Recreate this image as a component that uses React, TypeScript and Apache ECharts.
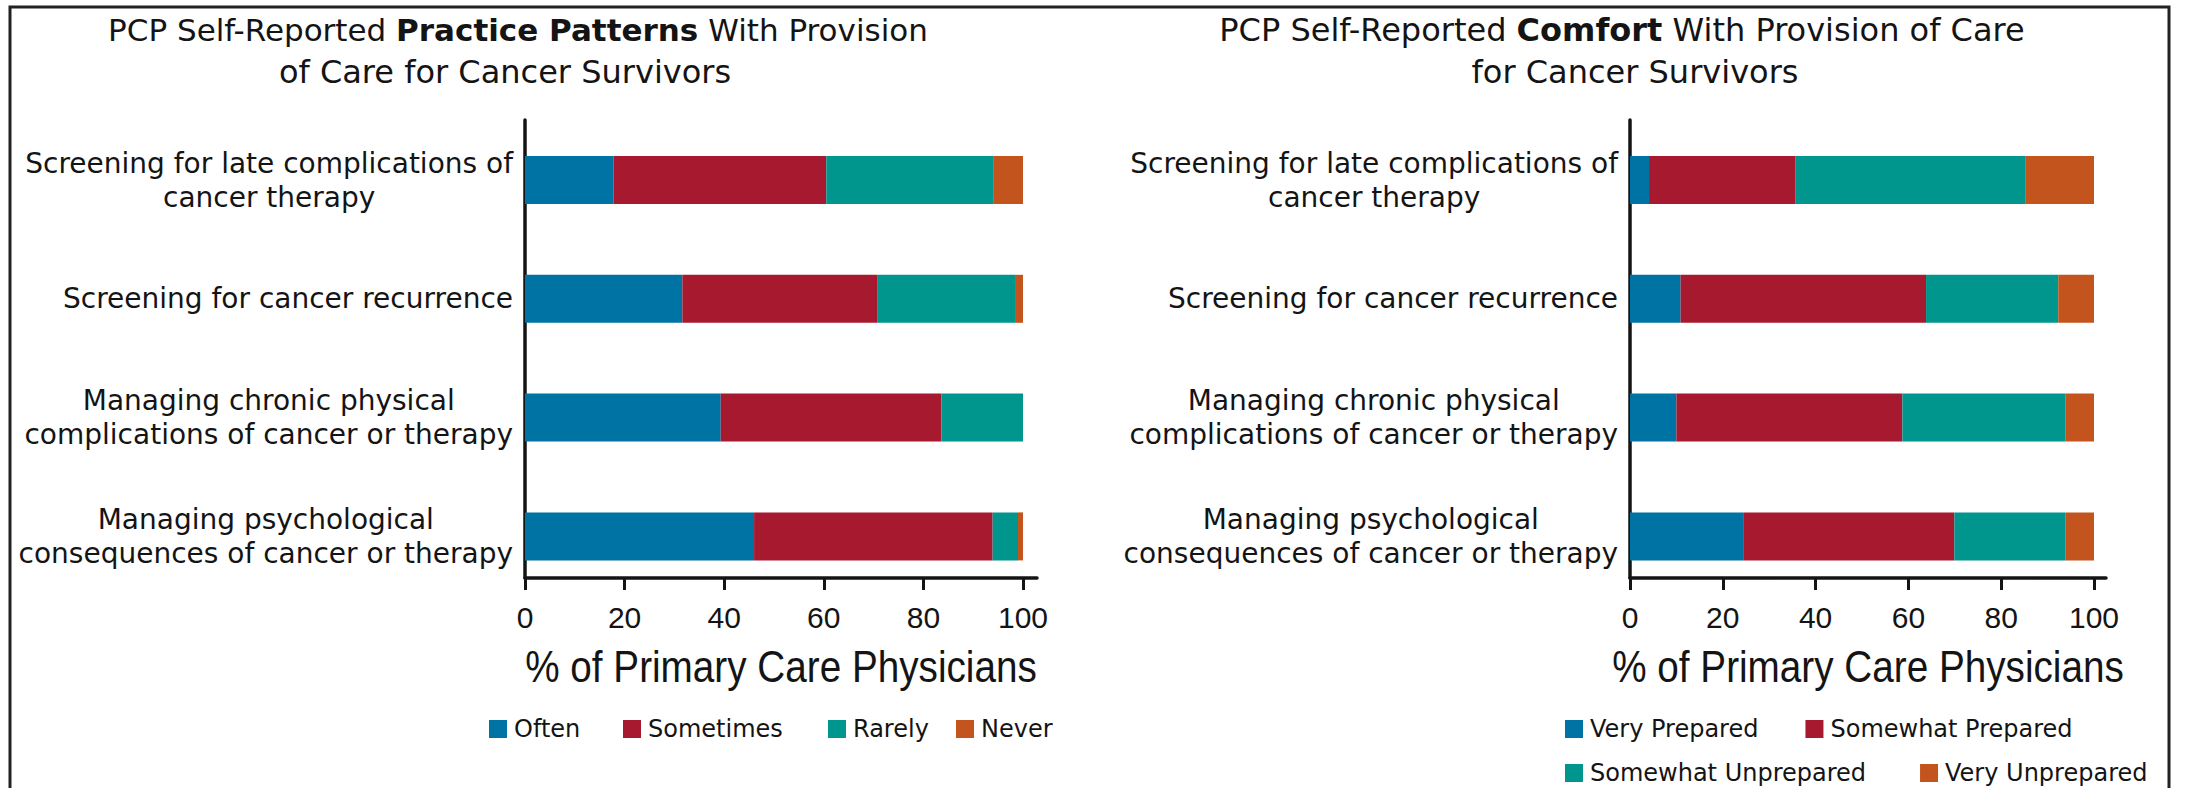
import React, { useEffect, useRef } from 'react';
import * as echarts from 'echarts';

// ---- data ----
const categories = [
  'Screening for late complications of\ncancer therapy',
  'Screening for cancer recurrence',
  'Managing chronic physical\ncomplications of cancer or therapy',
  'Managing psychological\nconsequences of cancer or therapy',
];
const practiceNames = ['Often', 'Sometimes', 'Rarely', 'Never'];
const practiceOften = [17.8, 31.6, 39.3, 46.0];
const practiceSometimes = [42.7, 39.1, 44.3, 47.9];
const practiceRarely = [33.5, 27.7, 16.4, 5.1];
const practiceNever = [6.0, 1.6, 0, 1.0];

const comfortNames = ['Very Prepared', 'Somewhat Prepared', 'Somewhat Unprepared', 'Very Unprepared'];
const comfortVeryPrepared = [4.1, 10.9, 10.0, 24.4];
const comfortSomewhatPrepared = [31.6, 52.9, 48.7, 45.5];
const comfortSomewhatUnprepared = [49.6, 28.5, 35.2, 24.0];
const comfortVeryUnprepared = [14.7, 7.7, 6.1, 6.1];

const xTicks = [0, 20, 40, 60, 80, 100];
const axisTitle = '% of Primary Care Physicians';

const colors = ['#0073A5', '#A6192E', '#00968E', '#C3541D'];

const SANS = "'DejaVu Sans', sans-serif";
const ARIAL = "'Liberation Sans', Arial, sans-serif";
const TEXT = '#141414';

export default function App() {
  const ref = useRef<HTMLDivElement>(null);

  useEffect(() => {
    if (!ref.current) return;
    const chart = echarts.init(ref.current, undefined, { renderer: 'svg' });

    const panels = [
      { barGrid: 0, axisGrid: 1, left: 525, width: 498, lineWidth: 512, titleX: 781 },
      { barGrid: 2, axisGrid: 3, left: 1630, width: 464, lineWidth: 476, titleX: 1868 },
    ];
    const top = 120.6;
    const bandH = 118.8;
    const axisY = 578;

    const grids: any[] = [];
    const xAxes: any[] = [];
    const yAxes: any[] = [];
    panels.forEach((p) => {
      grids.push({ left: p.left, top, width: p.width, height: bandH * 4, outerBoundsMode: 'none', containLabel: false });
      grids.push({ left: p.left, top: 120, width: p.lineWidth, height: axisY - 120, outerBoundsMode: 'none', containLabel: false });
      xAxes.push({
        type: 'value', gridIndex: p.barGrid, min: xTicks[0], max: xTicks[xTicks.length - 1], interval: 20,
        offset: axisY - (top + bandH * 4),
        axisLine: { show: false },
        axisTick: { show: true, length: 12, lineStyle: { width: 3, color: TEXT } },
        splitLine: { show: false },
        axisLabel: { margin: 24, fontFamily: ARIAL, fontSize: 30, lineHeight: 31, color: TEXT },
      });
      xAxes.push({
        type: 'value', gridIndex: p.axisGrid, min: 0, max: 1,
        axisLine: { show: true, onZero: false, lineStyle: { width: 3.5, color: TEXT } },
        axisTick: { show: false }, axisLabel: { show: false }, splitLine: { show: false },
      });
      yAxes.push({
        type: 'category', gridIndex: p.barGrid, data: categories, inverse: true,
        axisLine: { show: false }, axisTick: { show: false }, splitLine: { show: false },
        axisLabel: {
          margin: 12,
          formatter: (v: string) => v.split('\n').map((l) => `{c|${l}}`).join('\n'),
          rich: { c: { align: 'center', fontFamily: SANS, fontSize: 28, lineHeight: 34, color: TEXT } },
        },
      });
      yAxes.push({
        type: 'value', gridIndex: p.axisGrid, min: 0, max: 1,
        axisLine: { show: true, onZero: false, lineStyle: { width: 3.5, color: TEXT } },
        axisTick: { show: false }, axisLabel: { show: false }, splitLine: { show: false },
      });
    });

    const mk = (name: string, data: number[], i: number, axis: number, stack: string) => ({
      type: 'bar', name, data, stack, xAxisIndex: axis, yAxisIndex: axis, barWidth: 48,
      itemStyle: { color: colors[i] }, emphasis: { disabled: true },
    });

    const series = [
      mk(practiceNames[0], practiceOften, 0, 0, 'p'),
      mk(practiceNames[1], practiceSometimes, 1, 0, 'p'),
      mk(practiceNames[2], practiceRarely, 2, 0, 'p'),
      mk(practiceNames[3], practiceNever, 3, 0, 'p'),
      mk(comfortNames[0], comfortVeryPrepared, 0, 2, 'c'),
      mk(comfortNames[1], comfortSomewhatPrepared, 1, 2, 'c'),
      mk(comfortNames[2], comfortSomewhatUnprepared, 2, 2, 'c'),
      mk(comfortNames[3], comfortVeryUnprepared, 3, 2, 'c'),
    ];

    const legendBase = {
      icon: 'rect', itemWidth: 18, itemHeight: 18, orient: 'horizontal',
      textStyle: { fontFamily: SANS, fontSize: 24, color: TEXT, padding: [0, 0, 0, 2] },
    };
    const practiceLegendX = [484, 618, 823, 951];

    const titleRich = (size: number) => ({
      n: { fontFamily: SANS, fontSize: size, fontWeight: 'normal', fill: TEXT },
      b: { fontFamily: SANS, fontSize: size, fontWeight: 'bold', fill: TEXT },
    });

    chart.setOption({
      animation: false,
      backgroundColor: '#ffffff',
      grid: grids,
      xAxis: xAxes,
      yAxis: yAxes,
      series,
      legend: [
        ...practiceNames.map((n, i) => ({ ...legendBase, data: [n], left: practiceLegendX[i], top: 712 })),
        { ...legendBase, data: comfortNames.slice(0, 2), left: 1560, top: 712, itemGap: 47 },
        { ...legendBase, data: comfortNames.slice(2), left: 1560, top: 756, itemGap: 54 },
      ],
      graphic: [
        {
          type: 'polyline', silent: true,
          shape: { points: [[10, 800], [10, 7], [2169, 7], [2169, 800]] },
          style: { stroke: '#222', lineWidth: 3, fill: 'none' },
        },
        {
          type: 'text', x: 518, y: 30,
          style: { text: '{n|PCP Self-Reported }{b|Practice Patterns}{n| With Provision}', rich: titleRich(31), align: 'center', verticalAlign: 'middle' },
        },
        {
          type: 'text', x: 505, y: 72,
          style: { text: 'of Care for Cancer Survivors', fontFamily: SANS, fontSize: 32, fill: TEXT, align: 'center', verticalAlign: 'middle' },
        },
        {
          type: 'text', x: 1622, y: 30,
          style: { text: '{n|PCP Self-Reported }{b|Comfort}{n| With Provision of Care}', rich: titleRich(32), align: 'center', verticalAlign: 'middle' },
        },
        {
          type: 'text', x: 1635, y: 72,
          style: { text: 'for Cancer Survivors', fontFamily: SANS, fontSize: 32, fill: TEXT, align: 'center', verticalAlign: 'middle' },
        },
        ...panels.map((p) => ({
          type: 'text', x: p.titleX, y: 666, scaleX: 0.86, scaleY: 1,
          style: { text: axisTitle, fontFamily: ARIAL, fontSize: 45, fill: TEXT, align: 'center', verticalAlign: 'middle' },
        })),
      ],
    });

    return () => chart.dispose();
  }, []);

  return (
    <div
      ref={ref}
      style={{ position: 'fixed', left: 0, top: 0, width: 2188, height: 788, background: '#fff' }}
    />
  );
}
